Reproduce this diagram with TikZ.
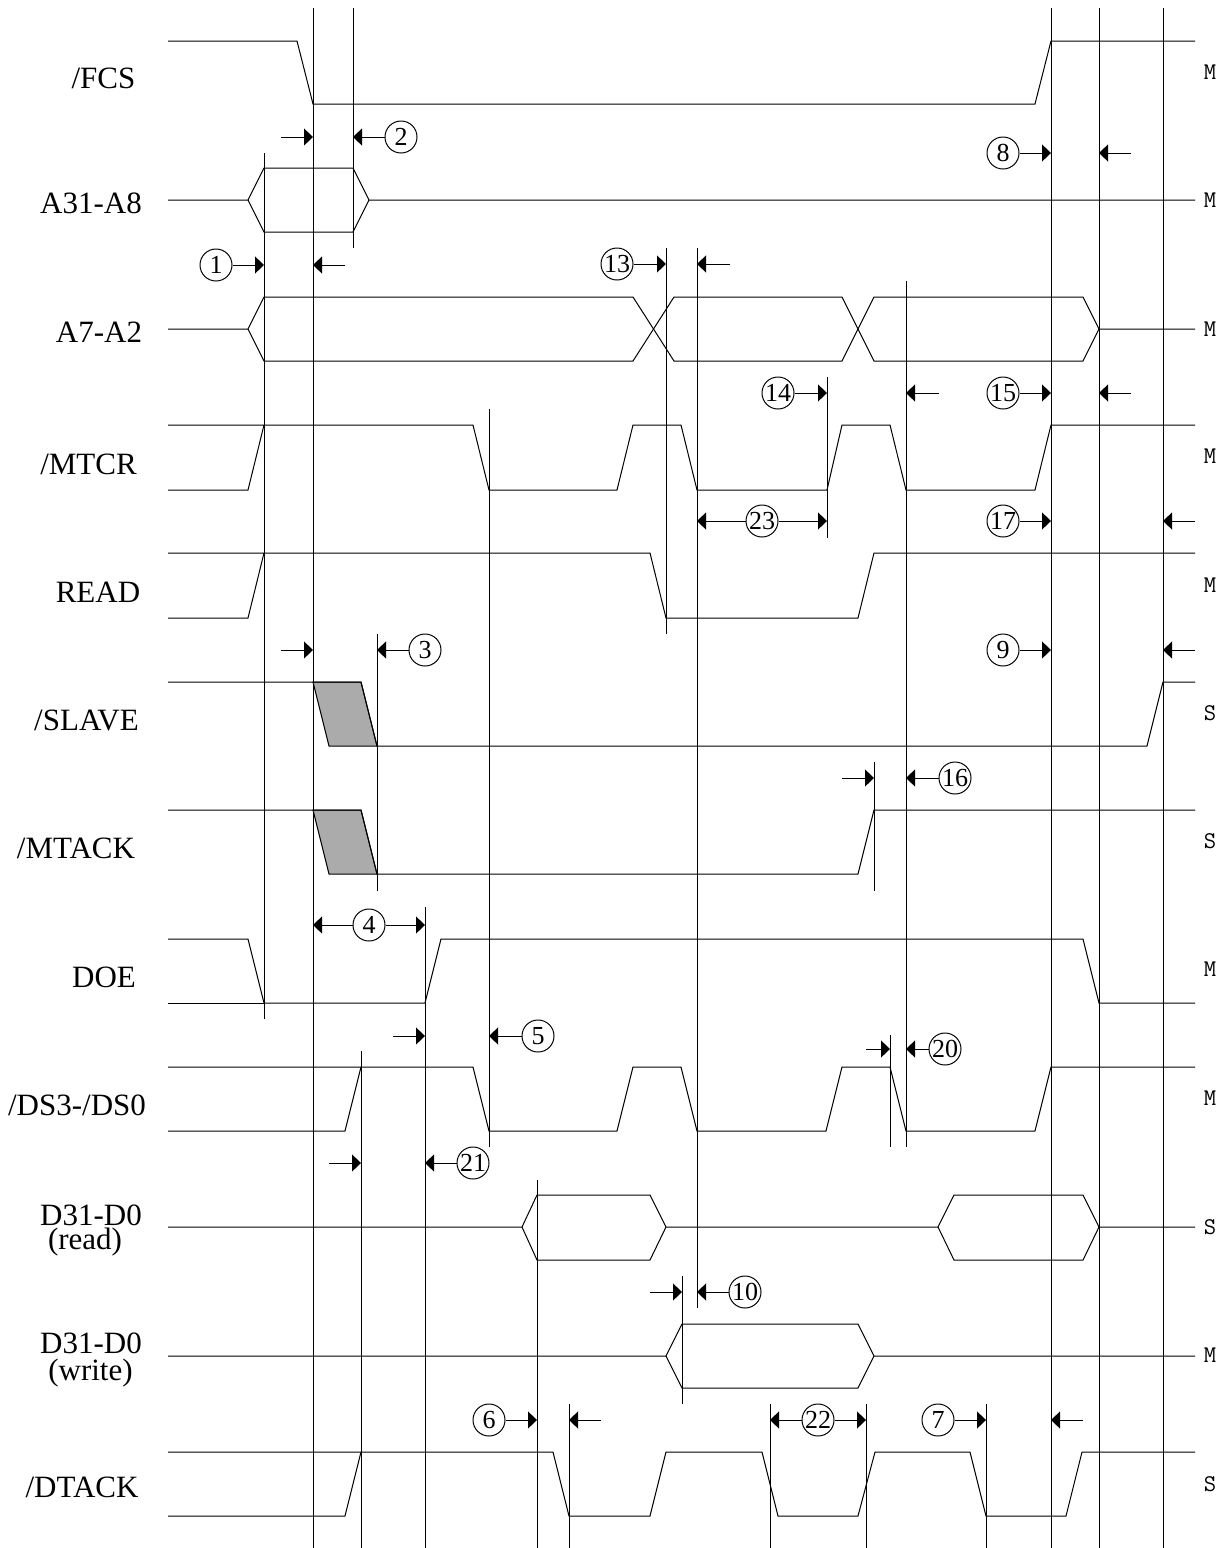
\documentclass[tikz,border=0pt]{standalone}
\usepackage{fontspec}
\setmainfont{Liberation Serif}
\usetikzlibrary{arrows.meta}
\definecolor{shadecol}{HTML}{ABABAB}
\tikzstyle{sig}=[line width=0.5pt,line join=miter]
\tikzstyle{tline}=[line width=0.5pt]
\tikzstyle{dim}=[line width=0.5pt,-{Triangle[length=4.5pt,width=8.5pt]}]
\tikzstyle{signame}=[anchor=base,inner sep=0,font=\fontsize{15.5}{15.5}\selectfont]
\tikzstyle{drv}=[inner sep=0,font=\fontsize{12}{12}\selectfont\ttfamily]
\tikzstyle{num}=[draw,circle,line width=0.5pt,minimum size=16pt,inner sep=0,font=\fontsize{13}{13}\selectfont]
\begin{document}
\begin{tikzpicture}[x=0.5pt,y=-0.5pt]
  \useasboundingbox (0,0) rectangle (1228,1548);
  
  % TIME LINES
  \foreach \x/\ya/\yb in {264/153/1019,313/8/1548,353/8/248,361/1051/1548,377/634/891,
      425/907/1548,489/409/1147,537/1180/1548,569/1404/1548,666/248/634,682/1276/1404,
      697/248/1308,770/1404/1548,827/377/538,866/1404/1548,874/762/891,890/1035/1147,
      906/281/1147,986/1404/1548,1051/8/1548,1099/8/1548,1163/8/1548}{
    \coordinate (t\x) at (\x,0);
    \draw[tline] (\x,\ya) -- (\x,\yb);
  }
  
  % SIGNAL NAMES
  \foreach \x/\y/\txt [count=\i] in {103.5/88/{/FCS},91/213/A31-A8,99/342/A7-A2,88.5/474/{/MTCR},
      98/602/READ,86.5/730/{/SLAVE},76/858/{/MTACK},104/987/DOE,77/1115/{/DS3-/DS0},
      91/1225/D31-D0,85/1249/(read),91/1353/D31-D0,90.5/1380/(write),82/1497/{/DTACK}}
    \node[signame] (sig\i) at (\x,\y) {\txt};
  
  % DRIVER
  \foreach \y/\txt [count=\i] in {72/M,200/M,329/M,456/M,585/M,713/S,841/S,969/M,
      1098/M,1227/S,1355/M,1484/S}
    \node[drv] (drv\i) at (1210,\y) {\txt};
  
  % SHADED EDGES
  \foreach \y in {682,810}
    \draw[sig,fill=shadecol] (313,\y) -- (361,\y) -- (377,\y+64) -- (329,\y+64) -- cycle;
  
  % /FCS
  \draw[sig] (168,41) -- (297,41) -- (313,104) -- (1035,104) -- (1051,41) -- (1195,41);
  % A31-A8
  \draw[sig] (168,200) -- (248,200) -- (264,168) -- (353,168) -- (369,200) -- (1195,200);
  \draw[sig] (248,200) -- (264,232) -- (353,232) -- (369,200);
  % A7-A2
  \draw[sig] (168,329) -- (248,329) -- (264,297) -- (633,297) -- (674,361) -- (842,361)
    -- (874,297) -- (1083,297) -- (1099,329) -- (1195,329);
  \draw[sig] (248,329) -- (264,361) -- (633,361) -- (674,297) -- (842,297) -- (874,361)
    -- (1083,361) -- (1099,329);
  % /MTCR
  \draw[sig] (168,425) -- (473,425) -- (489,490) -- (617,490) -- (633,425) -- (681,425)
    -- (697,490) -- (827,490) -- (842,425) -- (890,425) -- (906,490) -- (1035,490)
    -- (1051,425) -- (1195,425);
  \draw[sig] (168,490) -- (248,490) -- (264,425);
  % READ
  \draw[sig] (168,553) -- (650,553) -- (666,618) -- (858,618) -- (874,553) -- (1195,553);
  \draw[sig] (168,618) -- (248,618) -- (264,553);
  % /SLAVE
  \draw[sig] (168,682) -- (361,682) -- (377,746) -- (1147,746) -- (1163,682) -- (1195,682);
  % /MTACK
  \draw[sig] (168,810) -- (361,810) -- (377,874) -- (858,874) -- (874,810) -- (1195,810);
  % DOE
  \draw[sig] (168,939) -- (248,939) -- (264,1003) -- (425,1003) -- (441,939) -- (1083,939)
    -- (1099,1003) -- (1195,1003);
  \draw[sig] (168,1003) -- (264,1003);
  % /DS3-/DS0
  \draw[sig] (168,1067) -- (473,1067) -- (489,1131) -- (617,1131) -- (633,1067) -- (681,1067)
    -- (697,1131) -- (826,1131) -- (842,1067) -- (890,1067) -- (906,1131) -- (1035,1131)
    -- (1051,1067) -- (1195,1067);
  \draw[sig] (168,1131) -- (345,1131) -- (361,1067);
  % D31-D0 READ
  \draw[sig] (168,1227) -- (522,1227) -- (537,1195) -- (650,1195) -- (666,1227) -- (938,1227)
    -- (954,1195) -- (1083,1195) -- (1099,1227) -- (1195,1227);
  \draw[sig] (522,1227) -- (537,1260) -- (650,1260) -- (666,1227);
  \draw[sig] (938,1227) -- (954,1260) -- (1083,1260) -- (1099,1227);
  % D31-D0 WRITE
  \draw[sig] (168,1356) -- (666,1356) -- (682,1324) -- (858,1324) -- (874,1356) -- (1195,1356);
  \draw[sig] (666,1356) -- (682,1388) -- (858,1388) -- (874,1356);
  % /DTACK
  \draw[sig] (168,1452) -- (553,1452) -- (569,1516) -- (650,1516) -- (666,1452) -- (762,1452)
    -- (778,1516) -- (858,1516) -- (875,1452) -- (970,1452) -- (986,1516) -- (1066,1516)
    -- (1082,1452) -- (1195,1452);
  \draw[sig] (168,1516) -- (345,1516) -- (361,1452);
  
  % NUMBERED ARROWS
  \foreach \n/\x/\y/\ta in {1/216/265/264,2/401/137/353,3/425/650/377,5/538/1036/489,
      6/489/1420/537,7/938/1420/986,8/1003/153/1051,9/1003/650/1051,10/745/1292/697,
      13/617/264/666,14/778/393/827,15/1003/393/1051,16/955/778/906,17/1003/521/1051,
      20/945/1049/906,21/473/1163/425}{
    \node[num] (n\n) at (\x,\y) {\n};
    \draw[dim] (n\n) -- (n\n -| t\ta);
  }
  \foreach \n/\x/\y/\ta/\tb in {4/369/925/313/425,22/818/1420/770/866,23/762/521/697/827}{
    \node[num] (n\n) at (\x,\y) {\n};
    \draw[dim] (n\n) -- (n\n -| t\ta);
    \draw[dim] (n\n) -- (n\n -| t\tb);
  }
  
  % OPEN ARROWS
  \foreach \x/\y/\ta [count=\i] in {281/137/313,345/265/313,1131/153/1099,730/264/697,
      939/393/906,1131/393/1099,1195/521/1163,281/650/313,1195/650/1163,842/778/874,
      393/1036/425,866/1049/890,329/1163/361,650/1292/682,601/1420/569,1083/1420/1051}{
    \coordinate (a\i) at (\x,\y);
    \draw[dim] (a\i) -- (a\i -| t\ta);
  }
\end{tikzpicture}
\end{document}
